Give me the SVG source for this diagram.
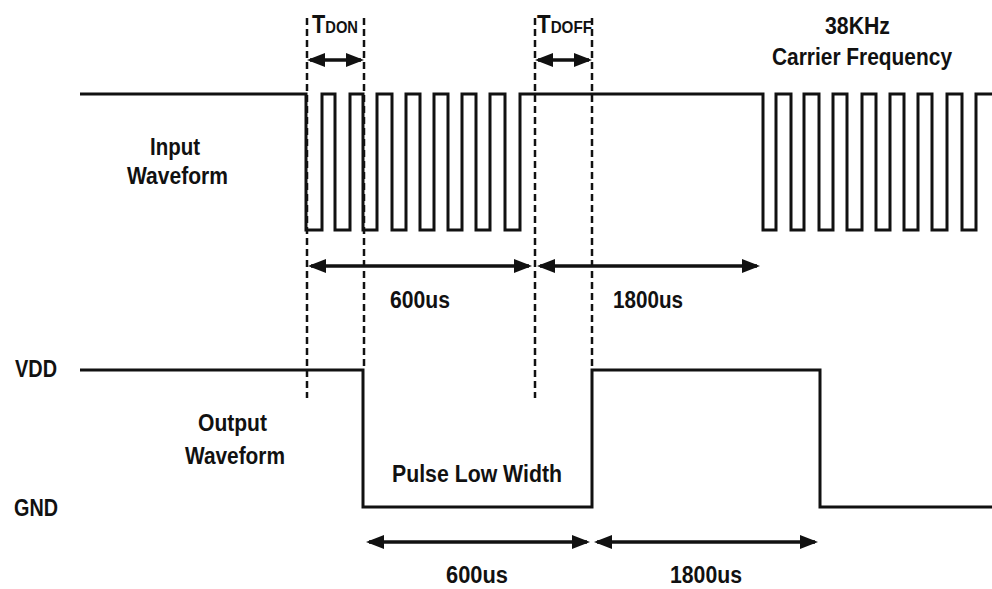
<svg xmlns="http://www.w3.org/2000/svg" width="992" height="589" viewBox="0 0 992 589">
<style>
.wave{fill:none;stroke:#111;stroke-width:3;stroke-linejoin:miter}
.dash{fill:none;stroke:#111;stroke-width:2.5;stroke-dasharray:7 4}
.dim{fill:none;stroke:#111;stroke-width:3.5;marker-start:url(#ah);marker-end:url(#ah)}
text{font-family:"Liberation Sans",Arial,sans-serif;font-weight:bold;fill:#111}
.lbl{font-size:23px}
.big{font-size:25px}
.sub{font-size:17px}
</style>
<defs>
<marker id="ah" viewBox="0 0 18 14" refX="15" refY="7" markerWidth="18" markerHeight="14" markerUnits="userSpaceOnUse" orient="auto-start-reverse">
<path d="M0,0 L18,7 L0,14 z" fill="#111"/>
</marker>
</defs>
<rect width="992" height="589" fill="#fff"/>

<g id="input-waveform">
<path class="wave" d="M80,94 H306 V230 H322 V94 H335 V230 H350 V94 H363 V230 H377 V94 H392 V230 H406 V94 H420 V230 H434 V94 H448 V230 H462 V94 H476 V230 H490 V94 H505 V230 H520 V94 H763 V230 H776 V94 H791 V230 H804 V94 H819 V230 H833 V94 H847 V230 H862 V94 H876 V230 H890 V94 H904 V230 H918 V94 H932 V230 H947 V94 H962 V230 H976 V94 H992"/>
</g>

<g id="output-waveform">
<path class="wave" d="M80,370 H363 V507 H592 V370 H820 V507 H992"/>
</g>

<g id="connectors">
<line class="dash" x1="307" y1="18" x2="307" y2="398"/>
<line class="dash" x1="364" y1="18" x2="364" y2="370"/>
<line class="dash" x1="535" y1="18" x2="535" y2="398"/>
<line class="dash" x1="592" y1="18" x2="592" y2="370"/>
<line class="dim" x1="310" y1="60" x2="361" y2="60"/>
<line class="dim" x1="538" y1="60" x2="589" y2="60"/>
<line class="dim" x1="311" y1="266" x2="529" y2="266"/>
<line class="dim" x1="540" y1="266" x2="757" y2="266"/>
<line class="dim" x1="369" y1="542" x2="587" y2="542"/>
<line class="dim" x1="597" y1="542" x2="815" y2="542"/>
</g>

<g id="labels">
<text x="312" y="33" textLength="46" lengthAdjust="spacingAndGlyphs"><tspan class="big">T</tspan><tspan class="sub">DON</tspan></text>
<text x="537" y="33" textLength="55" lengthAdjust="spacingAndGlyphs"><tspan class="big">T</tspan><tspan class="sub">DOFF</tspan></text>
<text class="lbl" x="825" y="34" textLength="65" lengthAdjust="spacingAndGlyphs">38KHz</text>
<text class="lbl" x="772" y="65" textLength="180" lengthAdjust="spacingAndGlyphs">Carrier Frequency</text>
<text class="lbl" x="150" y="155" textLength="50" lengthAdjust="spacingAndGlyphs">Input</text>
<text class="lbl" x="127" y="184" textLength="101" lengthAdjust="spacingAndGlyphs">Waveform</text>
<text class="lbl" x="390" y="308" textLength="60" lengthAdjust="spacingAndGlyphs">600us</text>
<text class="lbl" x="613" y="308" textLength="70" lengthAdjust="spacingAndGlyphs">1800us</text>
<text class="lbl" x="15" y="377" textLength="42" lengthAdjust="spacingAndGlyphs">VDD</text>
<text class="lbl" x="14" y="516" textLength="44" lengthAdjust="spacingAndGlyphs">GND</text>
<text class="lbl" x="198" y="431" textLength="69" lengthAdjust="spacingAndGlyphs">Output</text>
<text class="lbl" x="185" y="464" textLength="100" lengthAdjust="spacingAndGlyphs">Waveform</text>
<text class="lbl" x="392" y="482" textLength="170" lengthAdjust="spacingAndGlyphs">Pulse Low Width</text>
<text class="lbl" x="446" y="583" textLength="62" lengthAdjust="spacingAndGlyphs">600us</text>
<text class="lbl" x="670" y="583" textLength="72" lengthAdjust="spacingAndGlyphs">1800us</text>
</g>
</svg>
